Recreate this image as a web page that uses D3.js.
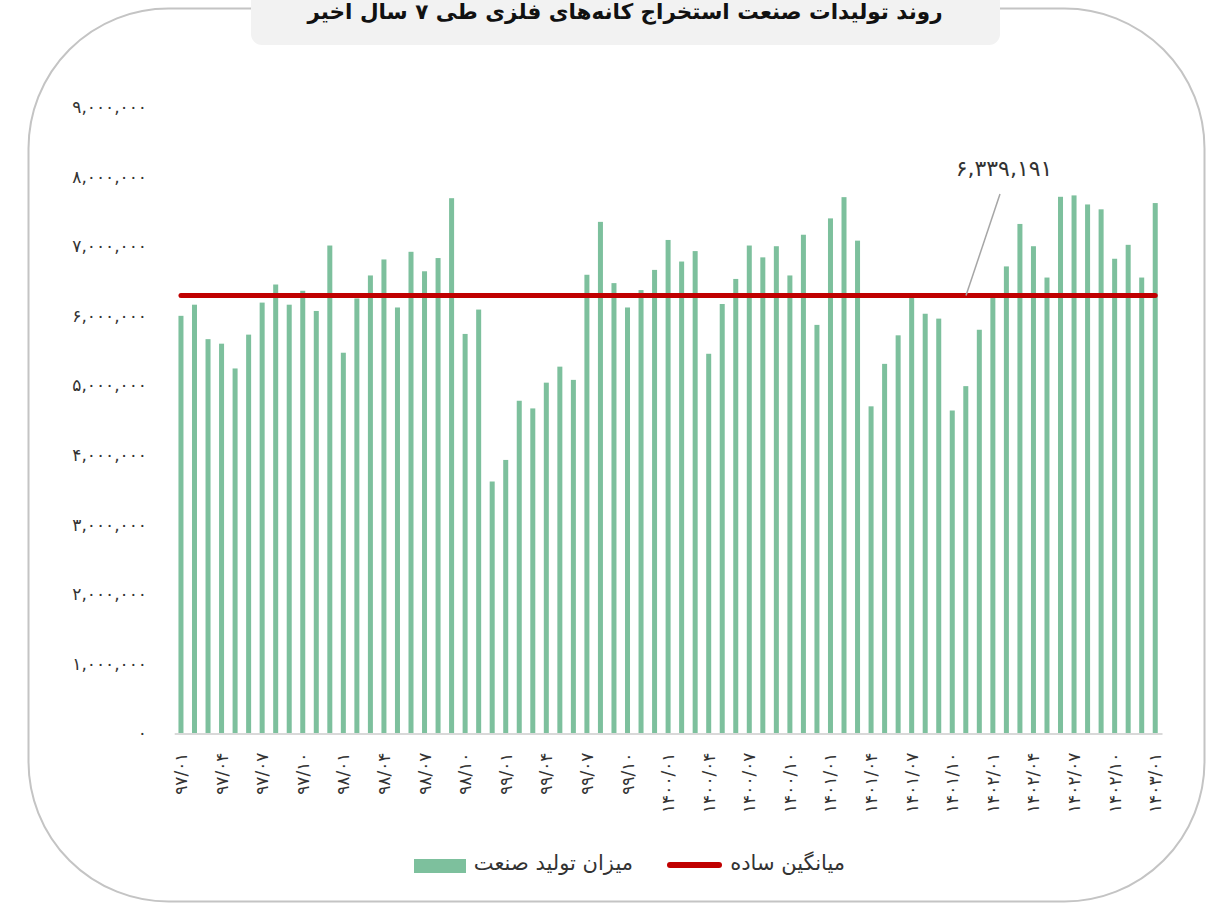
<!DOCTYPE html>
<html>
<head>
<meta charset="utf-8">
<script src="https://cdn.jsdelivr.net/npm/d3@7"></script>
<style>
  html, body { margin: 0; padding: 0; background: #ffffff; }
  svg { display: block; font-family: "DejaVu Sans", "Noto Sans", sans-serif; }
</style>
</head>
<body>
<svg id="chart" width="1209" height="903"></svg>
<script>
// ---------------- data ----------------
const title = "روند تولیدات صنعت استخراج کانه‌های فلزی طی ۷ سال اخیر";
const months = [
  "97/01","97/02","97/03","97/04","97/05","97/06","97/07","97/08","97/09","97/10","97/11","97/12",
  "98/01","98/02","98/03","98/04","98/05","98/06","98/07","98/08","98/09","98/10","98/11","98/12",
  "99/01","99/02","99/03","99/04","99/05","99/06","99/07","99/08","99/09","99/10","99/11","99/12",
  "1400/01","1400/02","1400/03","1400/04","1400/05","1400/06","1400/07","1400/08","1400/09","1400/10","1400/11","1400/12",
  "1401/01","1401/02","1401/03","1401/04","1401/05","1401/06","1401/07","1401/08","1401/09","1401/10","1401/11","1401/12",
  "1402/01","1402/02","1402/03","1402/04","1402/05","1402/06","1402/07","1402/08","1402/09","1402/10","1402/11","1402/12",
  "1403/01"
];
const production = [
  6000000,6160000,5665000,5600000,5244000,5730000,6190000,6450000,6160000,6360000,6070000,7010000,
  5470000,6250000,6580000,6810000,6120000,6920000,6640000,6830000,7690000,5740000,6090000,3620000,
  3930000,4780000,4670000,5040000,5270000,5080000,6590000,7350000,6470000,6120000,6370000,6660000,
  7090000,6780000,6930000,5455000,6170000,6530000,7010000,6840000,7000000,6580000,7165000,5870000,
  7400000,7705000,7080000,4700000,5310000,5720000,6290000,6030000,5960000,4640000,4990000,5800000,
  6280000,6710000,7320000,7000000,6550000,7710000,7730000,7600000,7530000,6820000,7020000,6550000,
  7620000
];
const xTickLabels = [
  "97/01","97/04","97/07","97/10","98/01","98/04","98/07","98/10",
  "99/01","99/04","99/07","99/10","1400/01","1400/04","1400/07","1400/10",
  "1401/01","1401/04","1401/07","1401/10","1402/01","1402/04","1402/07","1402/10","1403/01"
];
const yTicks = [0,1000000,2000000,3000000,4000000,5000000,6000000,7000000,8000000,9000000];
const averageLabelValue = 6339191;
const seriesNames = ["میزان تولید صنعت", "میانگین ساده"];

// ---------------- helpers ----------------
const fa = s => String(s).replace(/[0-9]/g, d => "۰۱۲۳۴۵۶۷۸۹"[+d]);
const fmt = d3.format(",");

const svg = d3.select("#chart");
const BAR = "#7dc09d", RED = "#c00000", TXT = "#333333";

// outer rounded frame
svg.append("rect")
  .attr("x", 28.5).attr("y", 8.5).attr("width", 1176).attr("height", 893)
  .attr("rx", 140).attr("ry", 140)
  .attr("fill", "#ffffff").attr("stroke", "#c4c4c4").attr("stroke-width", 2);

// title box
svg.append("rect")
  .attr("x", 251).attr("y", -20).attr("width", 749).attr("height", 65)
  .attr("rx", 11).attr("fill", "#f2f2f2");
svg.append("text")
  .attr("x", 625).attr("y", 19)
  .attr("text-anchor", "middle")
  .attr("font-size", 21.5).attr("font-weight", "bold")
  .attr("fill", "#111")
  .text(title);

// scales
const x = d3.scaleBand().domain(months).range([174.2, 1162]).paddingInner(0.63).paddingOuter(0.315);
const y = d3.scaleLinear().domain([0, 9000000]).range([733.5, 107]);

// y axis labels
const yAxis = d3.axisLeft(y).tickValues(yTicks).tickSize(0).tickPadding(0).tickFormat(d => fa(fmt(d)));
const gy = svg.append("g").attr("transform", "translate(147,0)").call(yAxis);
gy.select(".domain").remove();
gy.selectAll("text").attr("font-size", 17).attr("letter-spacing", 1).attr("fill", TXT).attr("font-family", "DejaVu Sans");

// bars
svg.append("g").selectAll("rect").data(production).join("rect")
  .attr("x", (d, i) => x(months[i]))
  .attr("width", x.bandwidth())
  .attr("y", d => y(d))
  .attr("height", d => y(0) - y(d))
  .attr("fill", BAR);

// x axis
const xAxis = d3.axisBottom(x).tickValues(xTickLabels).tickSize(0).tickPadding(0).tickFormat(d => fa(d));
const gx = svg.append("g").attr("transform", `translate(0,${y(0)})`).call(xAxis);
gx.select(".domain").attr("stroke", "#d9d9d9").attr("stroke-width", 2);
gx.selectAll("text")
  .attr("font-size", 17).attr("letter-spacing", 3).attr("fill", TXT).attr("font-family", "DejaVu Sans")
  .attr("text-anchor", "end")
  .attr("dy", null)
  .attr("dominant-baseline", "central")
  .attr("transform", "translate(0,19) rotate(-90)")
  .attr("y", 0).attr("x", 0);

// average line
const avg = d3.mean(production);
const first = x(months[0]) + x.bandwidth() / 2;
const last = x(months[months.length - 1]) + x.bandwidth() / 2;
svg.append("line")
  .attr("x1", first).attr("x2", last)
  .attr("y1", y(avg)).attr("y2", y(avg))
  .attr("stroke", RED).attr("stroke-width", 5).attr("stroke-linecap", "round");

// annotation
svg.append("line")
  .attr("x1", 1000).attr("y1", 194)
  .attr("x2", 966).attr("y2", y(avg))
  .attr("stroke", "#a6a6a6").attr("stroke-width", 1.5);
svg.append("text")
  .attr("x", 1004).attr("y", 176)
  .attr("text-anchor", "middle")
  .attr("font-size", 22).attr("fill", TXT)
  .text(fa(fmt(averageLabelValue)));

// legend
const lg = svg.append("g");
lg.append("rect").attr("x", 414).attr("y", 859).attr("width", 52).attr("height", 14).attr("fill", BAR);
lg.append("text").attr("x", 633).attr("y", 870).attr("text-anchor", "end")
  .attr("font-size", 21).attr("fill", TXT).text(seriesNames[0]);
lg.append("line").attr("x1", 670).attr("x2", 719).attr("y1", 865).attr("y2", 865)
  .attr("stroke", RED).attr("stroke-width", 6).attr("stroke-linecap", "round");
lg.append("text").attr("x", 845).attr("y", 870).attr("text-anchor", "end")
  .attr("font-size", 21).attr("fill", TXT).text(seriesNames[1]);
</script>
</body>
</html>
